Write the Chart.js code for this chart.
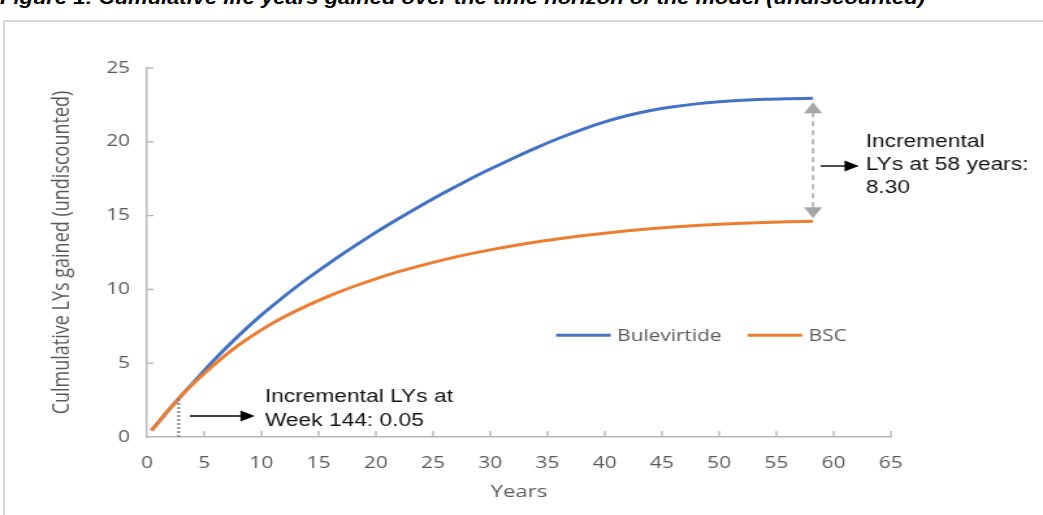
<!DOCTYPE html>
<html>
<head>
<meta charset="utf-8">
<script src="https://cdn.jsdelivr.net/npm/chart.js@4.4.1/dist/chart.umd.min.js"></script>
<style>
  html, body { margin: 0; padding: 0; background: #fff; overflow: hidden; }
  #title { position: absolute; left: 0; top: -11px; font: italic bold 18px "Liberation Sans", Arial, sans-serif; line-height: 18px; color: #000; white-space: nowrap; transform: scaleX(1.22); transform-origin: 0 0; }
  #frame { position: absolute; left: 3px; top: 20px; width: 1200px; height: 700px; border: 2px solid #d9d9d9; }
  /* the source picture is stretched sideways, so the chart is too */
  #wrap { position: absolute; left: 0; top: 0; width: 802px; height: 515px; transform: scaleX(1.3005); transform-origin: 0 0; }
</style>
</head>
<body>
<div id="title">Figure 1: Cumulative life years gained over the time horizon of the model (undiscounted)</div>
<div id="frame"></div>
<div id="wrap"><canvas id="mainChart"></canvas></div>
<script>
// years since start of the model
var years = [0.4, 1, 2, 2.77, 4, 6, 8, 10, 12, 14, 16, 18, 20, 22, 24, 26, 28, 30, 32, 34, 36, 38, 40, 42, 44, 46, 48, 50, 52, 54, 56, 58.2];
// cumulative life years gained (undiscounted)
var bulevirtide = [0.45, 1.0, 1.92, 2.6, 3.64, 5.32, 6.86, 8.26, 9.54, 10.72, 11.82, 12.86, 13.86, 14.8, 15.7, 16.56, 17.38, 18.15, 18.89, 19.59, 20.24, 20.83, 21.35, 21.78, 22.12, 22.38, 22.57, 22.71, 22.81, 22.88, 22.92, 22.95];
var bsc = [0.45, 1.0, 1.92, 2.6, 3.58, 4.98, 6.22, 7.26, 8.14, 8.9, 9.58, 10.18, 10.72, 11.2, 11.63, 12.02, 12.37, 12.68, 12.96, 13.21, 13.43, 13.63, 13.81, 13.97, 14.11, 14.23, 14.33, 14.41, 14.48, 14.54, 14.58, 14.61];

var seriesNames = ['Bulevirtide', 'BSC'];
var seriesColours = ['#4472C4', '#ED7D31'];

var xRange = [0, 65, 5];
var yRange = [0, 25, 5];

var week144 = 2.77;      // 144 weeks, in years
var horizon = 58.2;      // end of the time horizon
var weekNote = ['Incremental LYs at', 'Week 144: 0.05'];
var endNote = ['Incremental', 'LYs at 58 years:', '8.30'];

var axisColour = '#b7b7b7';
var textColour = '#595959';

function toPoints(values) {
    return values.map(function (v, i) { return { x: years[i], y: v }; });
}

// small arrow pointing right, filled head
function arrowRight(ctx, x1, x2, yy) {
    ctx.strokeStyle = '#000';
    ctx.fillStyle = '#000';
    ctx.lineWidth = 1.4;
    ctx.setLineDash([]);
    ctx.beginPath();
    ctx.moveTo(x1, yy);
    ctx.lineTo(x2 - 9, yy);
    ctx.stroke();
    ctx.beginPath();
    ctx.moveTo(x2, yy);
    ctx.lineTo(x2 - 11, yy - 5.5);
    ctx.lineTo(x2 - 11, yy + 5.5);
    ctx.closePath();
    ctx.fill();
}

var extras = {
    id: 'extras',
    afterDraw: function (chart) {
        var ctx = chart.ctx;
        var x = chart.scales.x, y = chart.scales.y, area = chart.chartArea;
        ctx.save();

        // tick marks pointing into the plot
        ctx.strokeStyle = axisColour;
        ctx.lineWidth = 1.4;
        x.ticks.forEach(function (t) {
            if (t.value === xRange[0]) return;
            var px = x.getPixelForValue(t.value);
            ctx.beginPath(); ctx.moveTo(px, area.bottom); ctx.lineTo(px, area.bottom - 6); ctx.stroke();
        });
        y.ticks.forEach(function (t) {
            if (t.value === yRange[0]) return;
            var py = y.getPixelForValue(t.value);
            ctx.beginPath(); ctx.moveTo(area.left, py); ctx.lineTo(area.left + 5, py); ctx.stroke();
        });

        // dotted line at week 144
        var wx = x.getPixelForValue(week144);
        ctx.strokeStyle = '#808080';
        ctx.lineWidth = 2;
        ctx.setLineDash([2, 2]);
        ctx.beginPath();
        ctx.moveTo(wx, area.bottom);
        ctx.lineTo(wx, y.getPixelForValue(bsc[3]));
        ctx.stroke();

        // double arrow at the end of the horizon
        var hx = x.getPixelForValue(horizon);
        var top = y.getPixelForValue(bulevirtide[bulevirtide.length - 1]) + 4;
        var bot = y.getPixelForValue(bsc[bsc.length - 1]) - 3;
        ctx.strokeStyle = '#b4b4b4';
        ctx.fillStyle = '#a6a6a6';
        ctx.lineWidth = 1.8;
        ctx.setLineDash([5, 4]);
        ctx.beginPath(); ctx.moveTo(hx, top + 10); ctx.lineTo(hx, bot - 10); ctx.stroke();
        ctx.setLineDash([]);
        ctx.beginPath(); ctx.moveTo(hx, top); ctx.lineTo(hx - 7, top + 11); ctx.lineTo(hx + 7, top + 11); ctx.closePath(); ctx.fill();
        ctx.beginPath(); ctx.moveTo(hx, bot); ctx.lineTo(hx - 7, bot - 11); ctx.lineTo(hx + 7, bot - 11); ctx.closePath(); ctx.fill();

        // annotation texts and arrows
        ctx.fillStyle = '#111';
        ctx.font = '17.5px "Liberation Sans", Arial, sans-serif';
        ctx.textAlign = 'left';
        ctx.textBaseline = 'alphabetic';
        var wtx = x.getPixelForValue(10.3);
        ctx.fillText(weekNote[0], wtx, y.getPixelForValue(2.35));
        ctx.fillText(weekNote[1], wtx, y.getPixelForValue(0.75));
        arrowRight(ctx, x.getPixelForValue(3.75), x.getPixelForValue(9.42), y.getPixelForValue(1.42));

        var etx = x.getPixelForValue(62.8);
        ctx.fillStyle = '#111';
        ctx.fillText(endNote[0], etx, y.getPixelForValue(19.67));
        ctx.fillText(endNote[1], etx, y.getPixelForValue(18.09));
        ctx.fillText(endNote[2], etx, y.getPixelForValue(16.53));
        arrowRight(ctx, x.getPixelForValue(58.87), x.getPixelForValue(62.2), y.getPixelForValue(18.36));

        // legend inside the plot
        ctx.font = '16px "Open Sans", sans-serif';
        ctx.textBaseline = 'middle';
        var lx = x.getPixelForValue(35.75);
        var ly = y.getPixelForValue(6.9);
        seriesNames.forEach(function (name, i) {
            ctx.strokeStyle = seriesColours[i];
            ctx.lineWidth = 3;
            ctx.beginPath(); ctx.moveTo(lx, ly); ctx.lineTo(lx + 42, ly); ctx.stroke();
            ctx.fillStyle = textColour;
            ctx.fillText(name, lx + 47, ly + 1);
            lx = lx + 47 + ctx.measureText(name).width + 20;
        });

        ctx.restore();
    }
};

var ctx = document.getElementById('mainChart').getContext('2d');
var chart = new Chart(ctx, {
    type: 'line',
    data: {
        datasets: [{
            label: seriesNames[0],
            data: toPoints(bulevirtide),
            borderColor: seriesColours[0],
            borderWidth: 3,
            order: 1
        }, {
            label: seriesNames[1],
            data: toPoints(bsc),
            borderColor: seriesColours[1],
            borderWidth: 3,
            order: 0
        }]
    },
    options: {
        responsive: true,
        maintainAspectRatio: false,
        animation: false,
        elements: {
            point: { radius: 0 },
            line: { cubicInterpolationMode: 'monotone', fill: false }
        },
        layout: { padding: { left: 37, right: 117, top: 68, bottom: 13 } },
        plugins: { legend: { display: false }, tooltip: { enabled: false } },
        scales: {
            x: {
                type: 'linear',
                min: xRange[0], max: xRange[1],
                grid: { display: false, drawTicks: false },
                border: { display: true, color: axisColour, width: 1.4 },
                ticks: { stepSize: xRange[2], padding: 17, color: textColour, maxRotation: 0, font: { family: 'Open Sans', size: 16 } },
                title: { display: true, text: 'Years', color: textColour, padding: 0, font: { family: 'Open Sans', size: 17 } },
                afterFit: function (s) { s.height = 65; }
            },
            y: {
                min: yRange[0], max: yRange[1],
                grid: { display: false, drawTicks: false },
                border: { display: true, color: axisColour, width: 1.4 },
                ticks: { stepSize: yRange[2], padding: 13, color: textColour, font: { family: 'Open Sans', size: 16 } },
                title: { display: true, text: 'Culmulative LYs gained (undiscounted)', color: textColour, padding: 0, font: { family: 'Open Sans', size: 18 } },
                afterFit: function (s) { s.width = 76; }
            }
        }
    },
    plugins: [extras]
});
</script>
</body>
</html>
